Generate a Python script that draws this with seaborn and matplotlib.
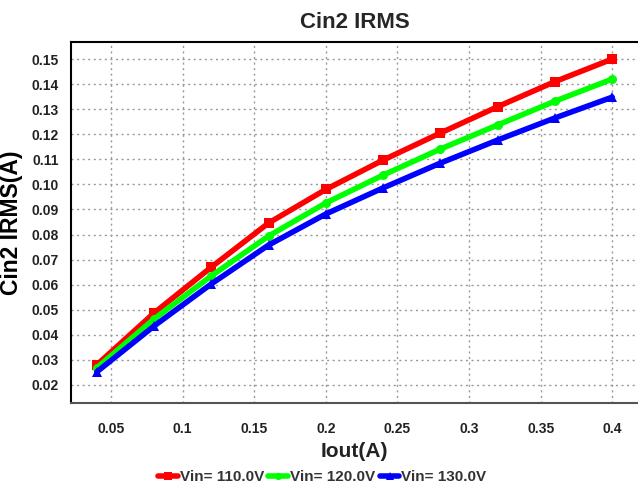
import matplotlib
matplotlib.use("Agg")
import matplotlib.pyplot as plt
import seaborn as sns
import pandas as pd

iout = [0.04, 0.08, 0.12, 0.16, 0.20, 0.24, 0.28, 0.32, 0.36, 0.40]
vin110 = [0.0280, 0.0487, 0.0670, 0.0846, 0.0980, 0.1097, 0.1205, 0.1310, 0.1410, 0.1500]
vin120 = [0.0268, 0.0463, 0.0635, 0.0794, 0.0926, 0.1037, 0.1141, 0.1237, 0.1332, 0.1420]
vin130 = [0.0252, 0.0435, 0.0603, 0.0758, 0.0882, 0.0986, 0.1085, 0.1177, 0.1265, 0.1348]
series_names = ["Vin= 110.0V", "Vin= 120.0V", "Vin= 130.0V"]
xticks = [0.05, 0.1, 0.15, 0.2, 0.25, 0.3, 0.35, 0.4]
yticks = [0.02, 0.03, 0.04, 0.05, 0.06, 0.07, 0.08, 0.09, 0.10, 0.11, 0.12, 0.13, 0.14, 0.15]

df = pd.DataFrame({
    "Iout": iout * 3,
    "IRMS": vin110 + vin120 + vin130,
    "Vin": [series_names[0]] * 10 + [series_names[1]] * 10 + [series_names[2]] * 10,
})

sns.set_style("white")
plt.rcParams['font.family'] = ['Liberation Sans', 'DejaVu Sans']

fig = plt.figure(figsize=(6.38, 4.93), dpi=100)
ax = fig.add_axes([0.1113, 0.1826, 0.8887, 0.7322])

palette = {series_names[0]: "#ff0000", series_names[1]: "#00ff00", series_names[2]: "#0000ff"}
markers = {series_names[0]: "s", series_names[1]: "o", series_names[2]: "^"}
sns.lineplot(data=df, x="Iout", y="IRMS", hue="Vin", style="Vin", palette=palette,
             markers=markers, dashes=False, linewidth=4, markersize=6.5,
             markeredgewidth=0, ax=ax, legend=True, zorder=3)

ax.set_xlim(0.022, 0.418)
ax.set_ylim(0.0128, 0.1568)
ax.set_xticks(xticks)
ax.set_xticklabels([f"{v:g}" for v in xticks], fontsize=10, fontweight="bold", color="#222222")
ax.set_yticks(yticks)
ax.set_yticklabels([f"{v:.2f}" for v in yticks], fontsize=10, fontweight="bold", color="#222222")
ax.tick_params(axis="x", length=0, pad=14)
ax.tick_params(axis="y", length=0, pad=9)
ax.grid(True, linestyle=(0, (1.5, 2.5)), color="#999999", linewidth=1)
ax.set_axisbelow(True)
for s in ["left", "top"]:
    ax.spines[s].set_color("black")
    ax.spines[s].set_linewidth(1.5)
ax.spines["bottom"].set_color("#555555")
ax.spines["bottom"].set_linewidth(1.5)
ax.spines["right"].set_visible(False)

ax.set_xlabel("Iout(A)", fontsize=15, fontweight="bold", labelpad=4, color="#222222")
ax.set_ylabel("Cin2 IRMS(A)", fontsize=16.5, fontweight="bold", labelpad=6, color="black")
fig.text(0.5555, 0.955, "Cin2 IRMS", ha="center", va="center", fontsize=16, fontweight="bold")

handles, labels = ax.get_legend_handles_labels()
ax.legend_.remove()
fig.legend(handles, labels, loc="center", bbox_to_anchor=(0.505, 0.032), ncol=3, frameon=False,
           prop={"weight": "bold", "size": 11}, handlelength=1.3, handletextpad=0.1,
           columnspacing=0.3, labelcolor="#333333", markerscale=0.8)

fig.savefig("out.png", dpi=100)
